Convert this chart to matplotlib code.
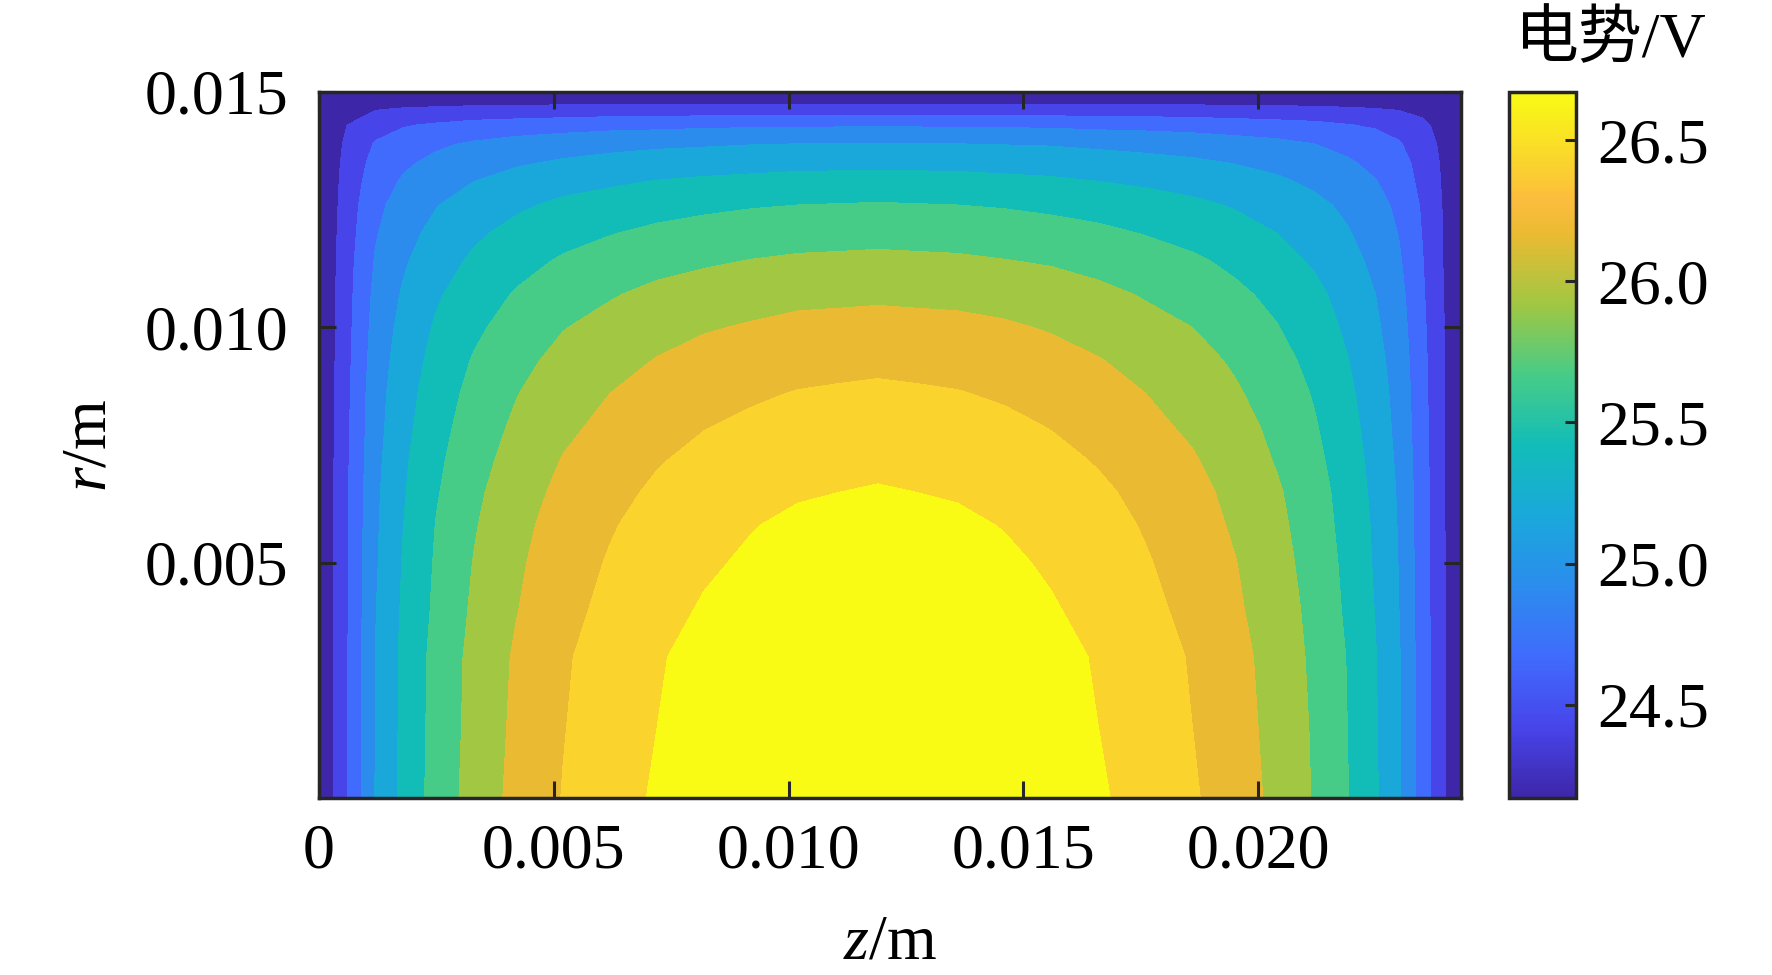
import numpy as np
import matplotlib
matplotlib.use('Agg')
import matplotlib.pyplot as plt
from matplotlib.colors import LinearSegmentedColormap, Normalize
from matplotlib.cm import ScalarMappable

# grid of the potential map (mm)
z_mm = [0, 0.6, 1.2, 1.8, 2.5, 3.3, 4.2, 5.2, 6.2, 7.2, 8.2, 9.2, 10.2, 11.1, 11.9, 12.7,
        13.6, 14.6, 15.6, 16.6, 17.6, 18.6, 19.5, 20.4, 21.2, 21.9, 22.5, 23.0, 23.5, 23.95, 24.32]
r_mm = [0, 1.5, 3.0, 4.0, 5.0, 5.8, 6.5, 7.2, 7.9, 8.6, 9.3, 10.0, 10.7, 11.4, 12.0,
        12.6, 13.1, 13.5, 13.9, 14.3, 14.65, 15.0]

# potential (V), one row per r value
potential = [
    [24.17, 24.66, 25.18, 25.49, 25.77, 26.02, 26.24, 26.43, 26.57, 26.70, 26.79, 26.86, 26.92, 26.94, 26.96, 26.94, 26.92, 26.87, 26.80, 26.70, 26.58, 26.45, 26.29, 26.11, 25.90, 25.68, 25.45, 25.20, 24.81, 24.45, 24.17],
    [24.17, 24.66, 25.17, 25.48, 25.76, 26.00, 26.22, 26.41, 26.55, 26.67, 26.76, 26.84, 26.89, 26.91, 26.93, 26.91, 26.89, 26.84, 26.77, 26.67, 26.55, 26.42, 26.27, 26.09, 25.89, 25.67, 25.44, 25.19, 24.80, 24.45, 24.17],
    [24.17, 24.66, 25.17, 25.48, 25.75, 25.99, 26.20, 26.39, 26.53, 26.65, 26.74, 26.81, 26.86, 26.88, 26.90, 26.88, 26.87, 26.81, 26.74, 26.65, 26.53, 26.40, 26.25, 26.07, 25.87, 25.66, 25.43, 25.19, 24.80, 24.45, 24.17],
    [24.17, 24.65, 25.16, 25.46, 25.72, 25.96, 26.16, 26.35, 26.48, 26.60, 26.69, 26.76, 26.81, 26.83, 26.85, 26.83, 26.81, 26.76, 26.69, 26.60, 26.48, 26.36, 26.21, 26.04, 25.85, 25.63, 25.41, 25.17, 24.79, 24.45, 24.17],
    [24.17, 24.65, 25.14, 25.44, 25.70, 25.93, 26.13, 26.31, 26.44, 26.55, 26.64, 26.70, 26.76, 26.78, 26.79, 26.78, 26.76, 26.71, 26.64, 26.55, 26.44, 26.32, 26.18, 26.01, 25.82, 25.61, 25.39, 25.16, 24.79, 24.45, 24.17],
    [24.17, 24.65, 25.13, 25.42, 25.68, 25.90, 26.10, 26.27, 26.40, 26.51, 26.59, 26.66, 26.71, 26.72, 26.74, 26.73, 26.71, 26.66, 26.60, 26.51, 26.40, 26.28, 26.14, 25.98, 25.79, 25.59, 25.38, 25.15, 24.78, 24.44, 24.17],
    [24.17, 24.64, 25.12, 25.40, 25.65, 25.87, 26.06, 26.23, 26.35, 26.46, 26.54, 26.60, 26.65, 26.67, 26.69, 26.67, 26.65, 26.61, 26.55, 26.46, 26.36, 26.24, 26.11, 25.95, 25.77, 25.57, 25.36, 25.14, 24.78, 24.44, 24.17],
    [24.17, 24.64, 25.10, 25.38, 25.62, 25.83, 26.01, 26.18, 26.30, 26.40, 26.48, 26.54, 26.58, 26.60, 26.61, 26.60, 26.58, 26.54, 26.48, 26.40, 26.30, 26.19, 26.06, 25.90, 25.73, 25.54, 25.34, 25.12, 24.77, 24.44, 24.17],
    [24.17, 24.63, 25.08, 25.35, 25.58, 25.79, 25.96, 26.12, 26.23, 26.33, 26.41, 26.46, 26.51, 26.52, 26.54, 26.52, 26.51, 26.47, 26.41, 26.33, 26.23, 26.13, 26.01, 25.86, 25.69, 25.51, 25.31, 25.10, 24.76, 24.44, 24.17],
    [24.17, 24.62, 25.07, 25.32, 25.55, 25.74, 25.91, 26.06, 26.17, 26.27, 26.34, 26.39, 26.43, 26.45, 26.46, 26.45, 26.43, 26.39, 26.34, 26.26, 26.17, 26.07, 25.95, 25.81, 25.65, 25.47, 25.29, 25.08, 24.75, 24.43, 24.17],
    [24.17, 24.61, 25.04, 25.29, 25.50, 25.69, 25.85, 25.99, 26.09, 26.18, 26.25, 26.30, 26.34, 26.35, 26.37, 26.35, 26.34, 26.30, 26.25, 26.18, 26.10, 26.00, 25.89, 25.75, 25.60, 25.43, 25.25, 25.06, 24.74, 24.43, 24.17],
    [24.17, 24.60, 25.01, 25.25, 25.45, 25.62, 25.78, 25.91, 26.00, 26.09, 26.15, 26.19, 26.23, 26.24, 26.25, 26.24, 26.23, 26.20, 26.15, 26.08, 26.00, 25.92, 25.81, 25.68, 25.54, 25.38, 25.21, 25.03, 24.72, 24.43, 24.17],
    [24.17, 24.59, 24.98, 25.20, 25.39, 25.55, 25.69, 25.81, 25.90, 25.98, 26.03, 26.08, 26.11, 26.12, 26.13, 26.12, 26.11, 26.08, 26.03, 25.98, 25.90, 25.82, 25.72, 25.61, 25.48, 25.33, 25.17, 25.00, 24.70, 24.42, 24.17],
    [24.17, 24.58, 24.94, 25.14, 25.32, 25.46, 25.59, 25.70, 25.78, 25.84, 25.89, 25.93, 25.96, 25.97, 25.98, 25.97, 25.96, 25.93, 25.90, 25.84, 25.78, 25.71, 25.62, 25.51, 25.39, 25.26, 25.11, 24.95, 24.68, 24.41, 24.17],
    [24.17, 24.56, 24.90, 25.09, 25.24, 25.38, 25.49, 25.59, 25.66, 25.72, 25.76, 25.80, 25.82, 25.83, 25.84, 25.83, 25.82, 25.80, 25.76, 25.72, 25.66, 25.59, 25.52, 25.42, 25.31, 25.19, 25.06, 24.91, 24.66, 24.41, 24.17],
    [24.17, 24.54, 24.86, 25.02, 25.16, 25.28, 25.38, 25.47, 25.53, 25.58, 25.62, 25.65, 25.67, 25.68, 25.69, 25.68, 25.67, 25.65, 25.62, 25.58, 25.53, 25.47, 25.40, 25.32, 25.23, 25.12, 25.00, 24.87, 24.64, 24.40, 24.17],
    [24.17, 24.52, 24.80, 24.95, 25.07, 25.17, 25.26, 25.33, 25.38, 25.43, 25.46, 25.48, 25.50, 25.51, 25.51, 25.51, 25.50, 25.48, 25.46, 25.42, 25.38, 25.33, 25.28, 25.21, 25.12, 25.03, 24.93, 24.81, 24.60, 24.39, 24.17],
    [24.17, 24.50, 24.75, 24.88, 24.98, 25.07, 25.14, 25.20, 25.25, 25.29, 25.31, 25.33, 25.35, 25.35, 25.36, 25.35, 25.35, 25.33, 25.31, 25.28, 25.25, 25.21, 25.16, 25.10, 25.03, 24.95, 24.86, 24.76, 24.58, 24.38, 24.17],
    [24.17, 24.47, 24.69, 24.80, 24.88, 24.95, 25.01, 25.06, 25.09, 25.12, 25.14, 25.16, 25.17, 25.18, 25.18, 25.18, 25.17, 25.16, 25.15, 25.12, 25.09, 25.06, 25.02, 24.98, 24.92, 24.85, 24.78, 24.69, 24.54, 24.36, 24.17],
    [24.17, 24.42, 24.57, 24.65, 24.70, 24.75, 24.78, 24.81, 24.84, 24.85, 24.87, 24.88, 24.88, 24.89, 24.89, 24.89, 24.88, 24.88, 24.87, 24.85, 24.84, 24.82, 24.79, 24.76, 24.73, 24.68, 24.64, 24.58, 24.47, 24.33, 24.17],
    [24.17, 24.33, 24.40, 24.43, 24.45, 24.47, 24.48, 24.49, 24.50, 24.50, 24.51, 24.51, 24.51, 24.51, 24.51, 24.51, 24.51, 24.51, 24.51, 24.50, 24.50, 24.49, 24.48, 24.47, 24.46, 24.44, 24.42, 24.40, 24.35, 24.28, 24.17],
    [24.17] * 31,
]

xticks = [0, 0.005, 0.010, 0.015, 0.020]
xticklabels = ['0', '0.005', '0.010', '0.015', '0.020']
yticks = [0.005, 0.010, 0.015]
yticklabels = ['0.005', '0.010', '0.015']
cticks = [24.5, 25.0, 25.5, 26.0, 26.5]
cticklabels = ['24.5', '25.0', '25.5', '26.0', '26.5']

# contour levels: 24.17 V upward in 0.25 V steps
vmin, vstep, nstep = 24.17, 0.25, 10

plt.rcParams['font.family'] = ['Liberation Serif', 'Noto Sans CJK SC']
plt.rcParams['font.size'] = 46
plt.rcParams['mathtext.fontset'] = 'custom'
plt.rcParams['mathtext.rm'] = 'Liberation Serif'
plt.rcParams['mathtext.it'] = 'Liberation Serif:italic'

# parula-like colormap
parula = LinearSegmentedColormap.from_list('parula', [
    (0.0, (0.2422, 0.1504, 0.6603)), (0.1, (0.28, 0.27, 0.92)), (0.2, (0.25, 0.42, 0.99)),
    (0.3, (0.17, 0.55, 0.93)), (0.4, (0.10, 0.66, 0.86)), (0.5, (0.07, 0.74, 0.72)),
    (0.6, (0.28, 0.80, 0.53)), (0.7, (0.63, 0.78, 0.26)), (0.8, (0.92, 0.73, 0.20)),
    (0.85, (0.99, 0.74, 0.24)), (0.9, (0.98, 0.83, 0.18)), (1.0, (0.9769, 0.9839, 0.0805))])

z = np.array(z_mm) / 1000
r = np.array(r_mm) / 1000
V = np.array(potential)

levels = [vmin - 0.5] + [vmin + vstep * k for k in range(1, nstep + 1)] + [V.max() + 0.5]
band_colors = [parula(k / nstep) for k in range(nstep + 1)]

fig = plt.figure(figsize=(17.72, 9.75), dpi=100)
ax = fig.add_axes([319 / 1772, 177 / 975, 1142 / 1772, 706 / 975])
ax.contourf(z, r, V, levels=levels, colors=band_colors)
ax.set_xlim(0, z[-1])
ax.set_ylim(0, r[-1])
ax.set_xticks(xticks)
ax.set_xticklabels(xticklabels)
ax.set_yticks(yticks)
ax.set_yticklabels(yticklabels)
ax.tick_params(axis='both', direction='in', length=12, width=2.2, color='#262626',
               top=True, right=True)
ax.tick_params(axis='x', pad=18)
ax.tick_params(axis='y', pad=22)
for s in ax.spines.values():
    s.set_linewidth(2.5)
    s.set_color('#262626')
ax.set_xlabel(r'$z$/m')
ax.set_ylabel(r'$r$/m')
ax.xaxis.set_label_coords(0.5, -0.165)
ax.yaxis.set_label_coords(-0.175, 0.5)

cax = fig.add_axes([1509 / 1772, 177 / 975, 67 / 1772, 706 / 975])
sm = ScalarMappable(norm=Normalize(vmin, vmin + nstep * vstep), cmap=parula)
cb = fig.colorbar(sm, cax=cax)
cb.set_ticks(cticks)
cb.set_ticklabels(cticklabels)
cax.tick_params(direction='in', length=8, width=2.2, color='#262626', pad=15)
cb.outline.set_linewidth(2.5)
cb.outline.set_edgecolor('#262626')
fig.text(1611 / 1772, 0.958, '电势/V', ha='center', va='center')

fig.savefig('out.png')
